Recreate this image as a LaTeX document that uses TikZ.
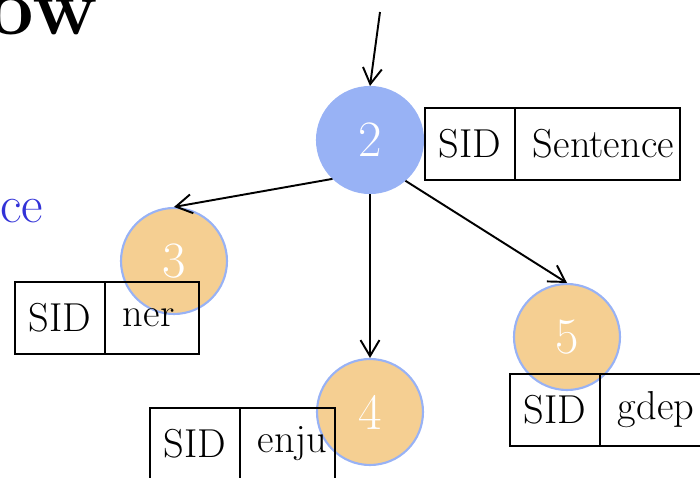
\documentclass[tikz,border=0pt]{standalone}
\usepackage{amsmath}
\usepackage{tikz}
\usetikzlibrary{shapes,arrows.meta}

\definecolor{azulNodo}{RGB}{152,178,245}
\definecolor{naranjaNodo}{RGB}{245,207,146}
\definecolor{azulTexto}{RGB}{50,50,215}

\begin{document}
\begin{tikzpicture}[x=0.02cm,y=-0.02cm]
    \tikzset{Activo/.style = {shape=circle,fill=azulNodo,draw=azulNodo,line width=1.2pt,minimum size=2.12cm,inner sep=0pt,text=white,font=\fontsize{29}{29}\selectfont}}
    \tikzset{Pendiente/.style = {shape=circle,fill=naranjaNodo,draw=azulNodo,line width=1.2pt,minimum size=2.12cm,inner sep=0pt,text=white,font=\fontsize{29}{29}\selectfont}}

    \tikzset{campoSID/.style = {shape=rectangle,draw,line width=1.1pt,outer sep=0pt,minimum width=1.8cm,minimum height=1.44cm,inner sep=0pt,font=\fontsize{23}{27}\selectfont}}
    \tikzset{campoDato/.style = {campoSID,anchor=west,text width=#1,align=left,inner xsep=0.36cm}}

    \tikzset{flecha/.style = {-{Straight Barb[length=3.2mm,width=3.8mm]},line width=1.1pt}}

    \useasboundingbox (0,0) rectangle (700,477);

    % texto del titulo y del margen, cortado por el borde
    \node[anchor=base east,inner sep=0pt,font=\fontsize{46}{46}\selectfont\bfseries] (titulo) at (98,34) {ow};
    \node[anchor=base west,inner sep=0pt,text=azulTexto,font=\fontsize{30}{30}\selectfont] (margen) at (0,222) {ce};

    \node[Activo] (node2) at (370,140) {2};
    \node[Pendiente] (node3) at (174,261) {3};
    \node[Pendiente] (node4) at (370,412) {4};
    \node[Pendiente] (node5) at (567,337) {5};

    % registros SID | dato
    \node[campoSID] (sid2) at (470,144) {SID};
    \node[campoDato=2.58cm] (dato2) at (sid2.east) {Sentence};

    \node[campoSID] (sid3) at (60,318) {SID};
    \node[campoDato=1.16cm] (dato3) at (sid3.east) {ner};

    \node[campoSID] (sid4) at (195,444) {SID};
    \node[campoDato=1.18cm] (dato4) at (sid4.east) {enju};

    \node[campoSID] (sid5) at (555,410) {SID};
    \node[campoDato=3.3cm] (dato5) at (sid5.east) {gdep};

    \coordinate (entrada) at (380,12);
    \draw[flecha] (entrada) -- (node2.north);

    \draw[flecha] (node2.226) -- (node3.north);
    \draw[flecha] (node2.south) -- (node4.north);
    \draw[flecha] (node2.-49) -- (node5.north);

\end{tikzpicture}
\end{document}
